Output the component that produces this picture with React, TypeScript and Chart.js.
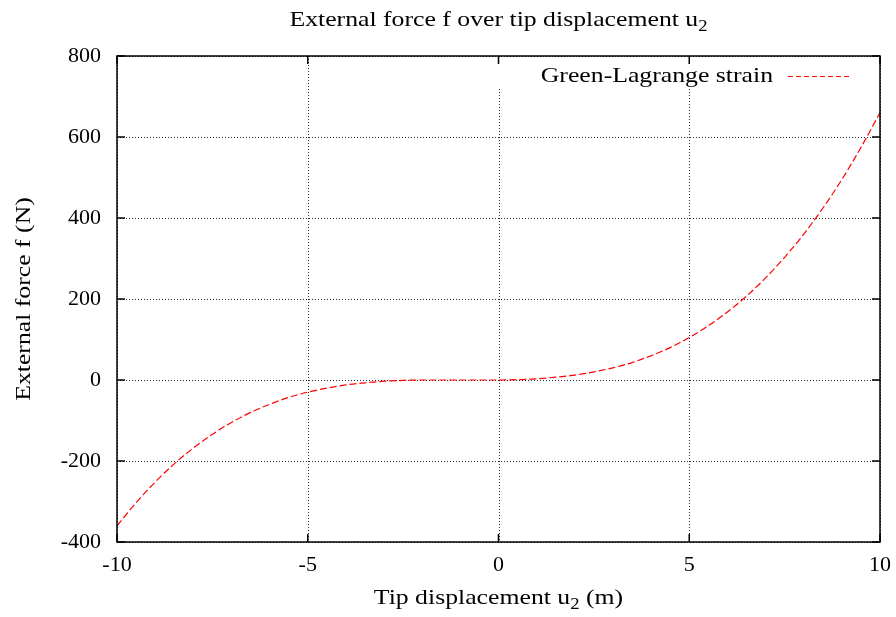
import React, { useEffect, useRef } from "react";
import { Chart, registerables } from "chart.js";

Chart.register(...registerables);

// Tip displacement u2 (m) and the matching external force f (N)
const displacement = [
  -10, -9.5, -9, -8.5, -8, -7.5, -7, -6.5, -6, -5.5, -5, -4.5, -4, -3.5, -3, -2.5, -2, -1.5, -1, -0.5,
  0, 0.5, 1, 1.5, 2, 2.5, 3, 3.5, 4, 4.5, 5, 5.5, 6, 6.5, 7, 7.5, 8, 8.5, 9, 9.5, 10,
];
const force = [
  -360, -303, -252, -207, -168, -134, -105, -80, -60, -43, -30, -20, -12, -7, -3, -1, 0, 0, 0, 0,
  0, 1, 3, 7, 12, 20, 30, 43, 60, 80, 105, 134, 168, 207, 252, 303, 360, 424, 495, 574, 660,
];

const xTicks = [-10, -5, 0, 5, 10];
const yTicks = [-400, -200, 0, 200, 400, 600, 800];

const seriesLabel = "Green-Lagrange strain";
const titleParts = [{ t: "External force f over tip displacement u" }, { t: "2", sub: true }];
const xLabelParts = [{ t: "Tip displacement u" }, { t: "2", sub: true }, { t: " (m)" }];
const yLabelText = "External force f (N)";

const FONT = '"Liberation Serif", "Times New Roman", serif';
const SIZE = 22;
const SUB = 16;
const WIDEN = 1.17; // horizontal stretch for the wider book-face lettering
const RED = "#ff0000";

type Part = { t: string; sub?: boolean };

function drawParts(ctx: CanvasRenderingContext2D, parts: Part[], cx: number, baseline: number) {
  const widths = parts.map((p) => {
    ctx.font = `${p.sub ? SUB : SIZE}px ${FONT}`;
    return ctx.measureText(p.t).width;
  });
  const total = widths.reduce((a, b) => a + b, 0);
  ctx.save();
  ctx.translate(cx, baseline);
  ctx.scale(WIDEN, 1);
  let x = -total / 2;
  ctx.textAlign = "left";
  ctx.textBaseline = "alphabetic";
  parts.forEach((p, i) => {
    ctx.font = `${p.sub ? SUB : SIZE}px ${FONT}`;
    ctx.fillText(p.t, x, p.sub ? 5 : 0);
    x += widths[i];
  });
  ctx.restore();
}

const framePlugin = {
  id: "frame",
  beforeDatasetsDraw(chart: any) {
    const { ctx, chartArea: a, scales } = chart;
    ctx.save();
    ctx.strokeStyle = "rgba(0,0,0,0.85)";
    ctx.lineWidth = 1;
    ctx.setLineDash([1, 2]);
    xTicks.forEach((v) => {
      const px = Math.round(scales.x.getPixelForValue(v)) + 0.5;
      ctx.beginPath();
      ctx.moveTo(px, a.top);
      ctx.lineTo(px, a.bottom);
      ctx.stroke();
    });
    yTicks.forEach((v) => {
      const py = Math.round(scales.y.getPixelForValue(v)) + 0.5;
      ctx.beginPath();
      ctx.moveTo(a.left, py);
      ctx.lineTo(a.right, py);
      ctx.stroke();
    });
    // key area is kept clear of grid lines
    ctx.setLineDash([]);
    ctx.fillStyle = "#ffffff";
    ctx.fillRect(a.left + 355, a.top + 1, a.right - a.left - 356, 31);
    ctx.restore();
  },
  afterDraw(chart: any) {
    const { ctx, chartArea: a, scales } = chart;
    ctx.save();
    ctx.strokeStyle = "#000";
    ctx.lineWidth = 1.5;
    ctx.setLineDash([]);
    ctx.strokeRect(a.left, a.top, a.right - a.left, a.bottom - a.top);
    const tl = 8;
    ctx.beginPath();
    xTicks.forEach((v) => {
      const px = scales.x.getPixelForValue(v);
      ctx.moveTo(px, a.bottom);
      ctx.lineTo(px, a.bottom - tl);
      ctx.moveTo(px, a.top);
      ctx.lineTo(px, a.top + tl);
    });
    yTicks.forEach((v) => {
      const py = scales.y.getPixelForValue(v);
      ctx.moveTo(a.left, py);
      ctx.lineTo(a.left + tl, py);
      ctx.moveTo(a.right, py);
      ctx.lineTo(a.right - tl, py);
    });
    ctx.stroke();

    ctx.fillStyle = "#000";
    const cx = (a.left + a.right) / 2;
    drawParts(ctx, titleParts, cx, 26);
    drawParts(ctx, xLabelParts, cx, 604);

    ctx.save();
    ctx.translate(30, (a.top + a.bottom) / 2);
    ctx.rotate(-Math.PI / 2);
    ctx.scale(WIDEN, 1);
    ctx.font = `${SIZE}px ${FONT}`;
    ctx.textAlign = "center";
    ctx.textBaseline = "alphabetic";
    ctx.fillText(yLabelText, 0, 0);
    ctx.restore();

    // key
    const ky = a.top + 20;
    ctx.save();
    ctx.translate(a.right - 107, ky);
    ctx.scale(WIDEN, 1);
    ctx.font = `${SIZE}px ${FONT}`;
    ctx.textAlign = "right";
    ctx.textBaseline = "middle";
    ctx.fillText(seriesLabel, 0, 0);
    ctx.restore();
    ctx.strokeStyle = RED;
    ctx.lineWidth = 1.2;
    ctx.setLineDash([5, 3]);
    ctx.beginPath();
    ctx.moveTo(a.right - 92, ky + 0.5);
    ctx.lineTo(a.right - 28, ky + 0.5);
    ctx.stroke();
    ctx.restore();
  },
};

export default function App() {
  const ref = useRef<HTMLCanvasElement>(null);

  useEffect(() => {
    if (!ref.current) return;
    const chart = new Chart(ref.current, {
      type: "line",
      data: {
        datasets: [
          {
            label: seriesLabel,
            data: displacement.map((u, i) => ({ x: u, y: force[i] })),
            borderColor: RED,
            borderWidth: 1.2,
            borderDash: [7, 3],
            pointRadius: 0,
            fill: false,
            cubicInterpolationMode: "monotone",
          },
        ],
      },
      options: {
        animation: false,
        responsive: false,
        layout: { padding: { top: 56, right: 16, left: 0, bottom: 0 } },
        plugins: {
          legend: { display: false },
          title: { display: false },
          tooltip: { enabled: false },
        },
        scales: {
          x: {
            type: "linear",
            min: -10,
            max: 10,
            afterBuildTicks: (s: any) => {
              s.ticks = xTicks.map((v) => ({ value: v }));
            },
            afterFit: (s: any) => {
              s.height = 75;
              s.paddingLeft = 0;
              s.paddingRight = 0;
            },
            grid: { display: false, drawTicks: false },
            border: { display: false },
            ticks: { color: "#000", font: { family: FONT, size: SIZE }, padding: 10, maxRotation: 0 },
          },
          y: {
            type: "linear",
            min: -400,
            max: 800,
            afterBuildTicks: (s: any) => {
              s.ticks = yTicks.map((v) => ({ value: v }));
            },
            afterFit: (s: any) => {
              s.width = 117;
              s.paddingTop = 0;
              s.paddingBottom = 0;
            },
            grid: { display: false, drawTicks: false },
            border: { display: false },
            ticks: { color: "#000", font: { family: FONT, size: SIZE }, padding: 16 },
          },
        },
      },
      plugins: [framePlugin],
    });
    return () => chart.destroy();
  }, []);

  return (
    <div style={{ position: "absolute", left: 0, top: 0, width: 896, height: 617, background: "#fff" }}>
      <canvas ref={ref} width={896} height={617} style={{ display: "block" }} />
    </div>
  );
}
